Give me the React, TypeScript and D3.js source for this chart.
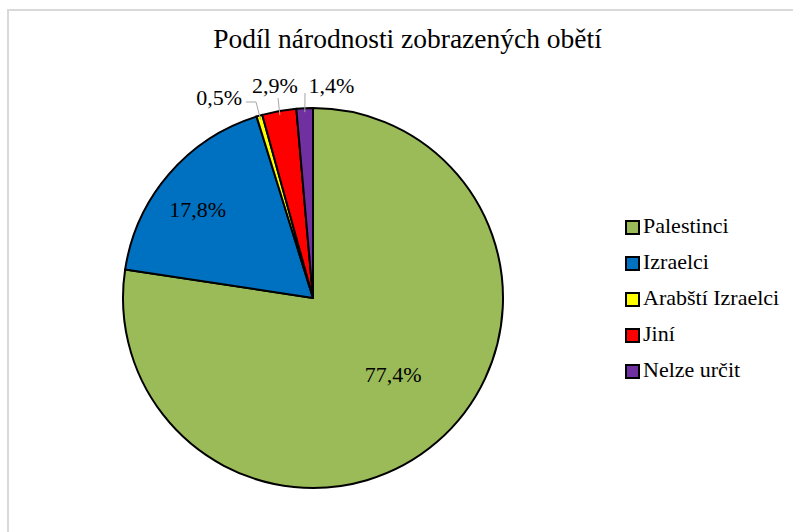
import React from "react";
import * as d3 from "d3";

const categories = ["Palestinci", "Izraelci", "Arabští Izraelci", "Jiní", "Nelze určit"];
const values = [77.4, 17.8, 0.5, 2.9, 1.4];
const colors = ["#9BBB59", "#0070C0", "#FFFF00", "#FF0000", "#7030A0"];
const title = "Podíl národnosti zobrazených obětí";

const W = 793, H = 532;
const cx = 313, cy = 298, R = 190;
const FONT = "Liberation Serif, Times New Roman, serif";

// inside labels: radius factor + nudge (layout only)
const insideLabel: Record<number, { rf: number; dx: number; dy: number }> = {
  0: { rf: 0.59, dx: 7, dy: -1 },
  1: { rf: 0.71, dx: -13, dy: 7 },
};
// outside labels: anchor + leader line (layout only)
const outsideLabel: Record<number, { x: number; y: number; anchor: string; pts: (p: [number, number]) => [number, number][] }> = {
  2: { x: 242, y: 105, anchor: "end", pts: (p) => [[246, 102], [256, 102], p] },
  3: { x: 275, y: 93, anchor: "middle", pts: (p) => [[278, 98], p] },
  4: { x: 331.5, y: 93, anchor: "middle", pts: (p) => [[305, 93], p] },
};

export default function App() {
  const pie = d3.pie<number>().sort(null).value((d) => d);
  const arcs = pie(values);
  const arc = d3.arc<d3.PieArcDatum<number>>().innerRadius(0).outerRadius(R);
  const fmt = (v: number) => v.toFixed(1).replace(".", ",") + "%";

  return (
    <svg width={W} height={H} style={{ position: "absolute", left: 0, top: 0, background: "#fff", fontFamily: FONT }}>
      <rect x={8} y={10} width={W + 10} height={H + 10} fill="#fff" stroke="#d9d9d9" strokeWidth={2} />
      <text x={407.5} y={48} textAnchor="middle" fontSize={27.5} fill="#000">{title}</text>
      <g transform={`translate(${cx},${cy})`}>
        {arcs.map((a, i) => (
          <path key={i} d={arc(a) || ""} fill={colors[i]} stroke="#000" strokeWidth={2} strokeLinejoin="round" />
        ))}
      </g>
      {arcs.map((a, i) => {
        const mid = (a.startAngle + a.endAngle) / 2;
        if (outsideLabel[i]) {
          const o = outsideLabel[i];
          const edge: [number, number] = [cx + Math.sin(mid) * (R - 4), cy - Math.cos(mid) * (R - 4)];
          const line = d3.line()(o.pts(edge));
          return (
            <g key={i}>
              <path d={line || ""} fill="none" stroke="#a6a6a6" strokeWidth={1} />
              <text x={o.x} y={o.y} textAnchor={o.anchor as any} fontSize={22} fill="#000">{fmt(values[i])}</text>
            </g>
          );
        }
        const l = insideLabel[i];
        const x = cx + Math.sin(mid) * R * l.rf + l.dx;
        const y = cy - Math.cos(mid) * R * l.rf + l.dy;
        return (
          <text key={i} x={x} y={y} textAnchor="middle" fontSize={22} fill="#000">{fmt(values[i])}</text>
        );
      })}
      {categories.map((c, i) => (
        <g key={c} transform={`translate(626,${221 + i * 36})`}>
          <rect x={0} y={0} width={13} height={13} fill={colors[i]} stroke="#000" strokeWidth={2} />
          <text x={17} y={12} fontSize={22} fill="#000">{c}</text>
        </g>
      ))}
    </svg>
  );
}
